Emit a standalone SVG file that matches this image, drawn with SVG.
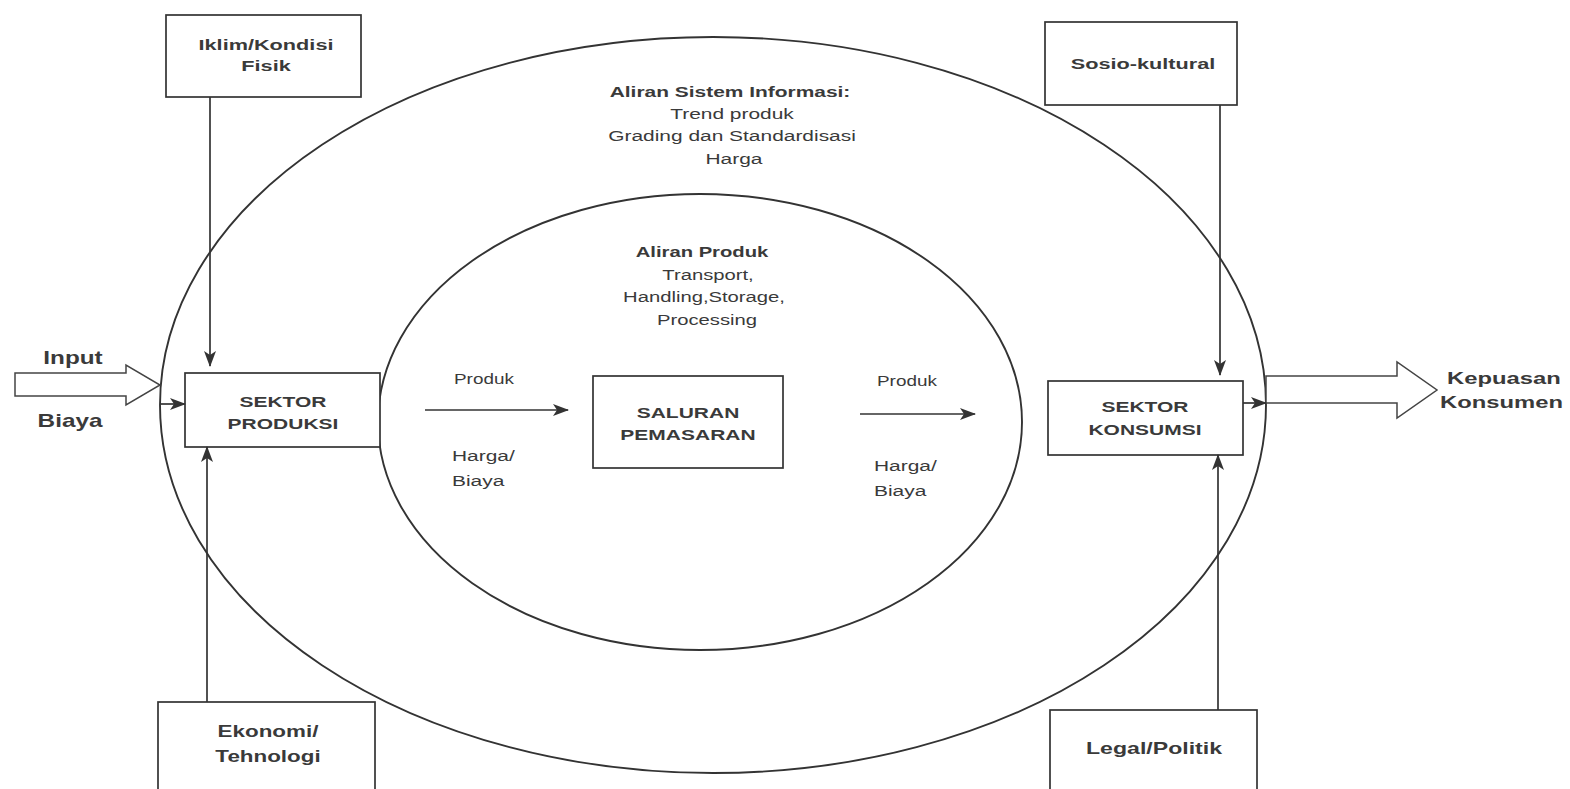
<svg xmlns="http://www.w3.org/2000/svg" width="1570" height="789" viewBox="0 0 1570 789">
<defs>
<marker id="ah" markerWidth="16" markerHeight="12" refX="15" refY="6" orient="auto" markerUnits="userSpaceOnUse">
<path d="M0,0 L16,6 L0,12 L4,6 z" fill="#333"/>
</marker>
<style>
.ln{stroke:#333;stroke-width:1.7;fill:none}
.box{fill:#fff;stroke:#333;stroke-width:1.7}
.ell{fill:none;stroke:#333;stroke-width:1.9}
.blk{fill:#fff;stroke:#444;stroke-width:1.5}
.t{font-family:"Liberation Sans",Arial,sans-serif;fill:#3a3a3a;text-anchor:middle}
.l{text-anchor:start}
.b{font-weight:bold}
</style>
</defs>
<rect width="1570" height="789" fill="#fff"/>
<g id="outer-ellipse"><ellipse class="ell" cx="713" cy="405" rx="553" ry="368"/></g>
<g id="inner-ellipse"><ellipse class="ell" cx="700" cy="422" rx="322" ry="228"/></g>

<g id="info">
<text class="t b" font-size="15.5" transform="translate(730,97) scale(1.35,1)">Aliran Sistem Informasi:</text>
<text class="t" font-size="15.5" transform="translate(732,119) scale(1.35,1)">Trend produk</text>
<text class="t" font-size="15.5" transform="translate(732,141) scale(1.35,1)">Grading dan Standardisasi</text>
<text class="t" font-size="15.5" transform="translate(734,164) scale(1.35,1)">Harga</text>
</g>
<g id="aliran-produk">
<text class="t b" font-size="15" transform="translate(702,257) scale(1.35,1)">Aliran Produk</text>
<text class="t" font-size="15" transform="translate(708,280) scale(1.35,1)">Transport,</text>
<text class="t" font-size="15" transform="translate(704,302) scale(1.35,1)">Handling,Storage,</text>
<text class="t" font-size="15" transform="translate(707,325) scale(1.35,1)">Processing</text>
</g>

<g id="iklim">
<rect class="box" x="166" y="15" width="195" height="82"/>
<text class="t b" font-size="15.5" transform="translate(266,50) scale(1.4,1)">Iklim/Kondisi</text>
<text class="t b" font-size="15.5" transform="translate(266,71) scale(1.4,1)">Fisik</text>
</g>
<g id="sosio">
<rect class="box" x="1045" y="22" width="192" height="83"/>
<text class="t b" font-size="15.5" transform="translate(1143,69) scale(1.4,1)">Sosio-kultural</text>
</g>
<g id="ekonomi">
<rect class="box" x="158" y="702" width="217" height="92"/>
<text class="t b" font-size="16" transform="translate(268,737) scale(1.4,1)">Ekonomi/</text>
<text class="t b" font-size="16" transform="translate(268,762) scale(1.4,1)">Tehnologi</text>
</g>
<g id="legal">
<rect class="box" x="1050" y="710" width="207" height="84"/>
<text class="t b" font-size="16.5" transform="translate(1154,754) scale(1.4,1)">Legal/Politik</text>
</g>
<g id="sektor-produksi">
<rect class="box" x="185" y="373" width="195" height="74"/>
<text class="t b" font-size="15" transform="translate(283,407) scale(1.4,1)">SEKTOR</text>
<text class="t b" font-size="15" transform="translate(283,429) scale(1.4,1)">PRODUKSI</text>
</g>
<g id="saluran">
<rect class="box" x="593" y="376" width="190" height="92"/>
<text class="t b" font-size="15" transform="translate(688,418) scale(1.4,1)">SALURAN</text>
<text class="t b" font-size="15" transform="translate(688,440) scale(1.4,1)">PEMASARAN</text>
</g>
<g id="sektor-konsumsi">
<rect class="box" x="1048" y="381" width="195" height="74"/>
<text class="t b" font-size="15" transform="translate(1145,412) scale(1.4,1)">SEKTOR</text>
<text class="t b" font-size="15" transform="translate(1145,435) scale(1.4,1)">KONSUMSI</text>
</g>

<g id="input">
<path class="blk" d="M15,373 H126 V365 L160,385 L126,405 V396 H15 Z"/>
<text class="t b" font-size="18" transform="translate(73,364) scale(1.35,1)">Input</text>
<text class="t b" font-size="18" transform="translate(70,427) scale(1.35,1)">Biaya</text>
</g>
<g id="output">
<path class="blk" d="M1266,376 H1397 V362 L1437,390 L1397,418 V403 H1266 Z"/>
<text class="t b l" font-size="17" transform="translate(1447,384) scale(1.4,1)">Kepuasan</text>
<text class="t b l" font-size="17" transform="translate(1440,408) scale(1.4,1)">Konsumen</text>
</g>

<g id="labels">
<text class="t l" font-size="14" transform="translate(454,384) scale(1.35,1)">Produk</text>
<text class="t l" font-size="15.5" transform="translate(452,461) scale(1.35,1)">Harga/</text>
<text class="t l" font-size="15.5" transform="translate(452,486) scale(1.35,1)">Biaya</text>
<text class="t l" font-size="14" transform="translate(877,386) scale(1.35,1)">Produk</text>
<text class="t l" font-size="15.5" transform="translate(874,471) scale(1.35,1)">Harga/</text>
<text class="t l" font-size="15.5" transform="translate(874,496) scale(1.35,1)">Biaya</text>
</g>

<g id="connectors">
<line class="ln" x1="210" y1="97" x2="210" y2="366" marker-end="url(#ah)"/>
<line class="ln" x1="207" y1="702" x2="207" y2="447" marker-end="url(#ah)"/>
<line class="ln" x1="160" y1="404" x2="185" y2="404" marker-end="url(#ah)"/>
<line class="ln" x1="425" y1="410" x2="568" y2="410" marker-end="url(#ah)"/>
<line class="ln" x1="860" y1="414" x2="975" y2="414" marker-end="url(#ah)"/>
<line class="ln" x1="1220" y1="105" x2="1220" y2="375" marker-end="url(#ah)"/>
<line class="ln" x1="1218" y1="710" x2="1218" y2="455" marker-end="url(#ah)"/>
<line class="ln" x1="1243" y1="403" x2="1266" y2="403" marker-end="url(#ah)"/>
</g>
</svg>
